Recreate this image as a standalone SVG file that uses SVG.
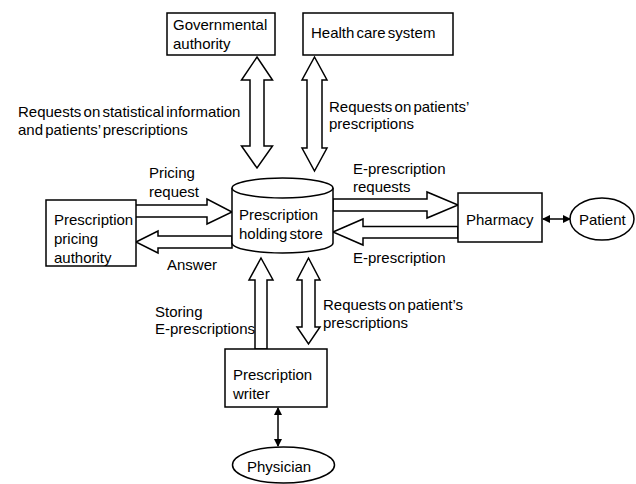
<svg xmlns="http://www.w3.org/2000/svg" width="636" height="484" viewBox="0 0 636 484">
  <defs>
    <style>
      .box { fill: #fff; stroke: #000; stroke-width: 1.5; }
      .wide { fill: #fff; stroke: #000; stroke-width: 1.5; stroke-linejoin: miter; }
      .thin { fill: none; stroke: #000; stroke-width: 1.5; }
      text { font-family: "Liberation Sans", Arial, sans-serif; font-size: 15px; fill: #000; word-spacing: -2px; }
    </style>
    <marker id="head" viewBox="0 0 8 8" refX="7" refY="4" markerWidth="8" markerHeight="8" markerUnits="userSpaceOnUse" orient="auto-start-reverse">
      <path d="M0,0 L8,4 L0,8 Z" fill="#000"/>
    </marker>
  </defs>

  <rect width="636" height="484" fill="#fff"/>

  <!-- connectors: wide hollow arrows and thin two-way links -->
  <g id="connectors">
    <polygon class="wide" points="257,57 272.5,80 264,80 264,146 272.5,146 257,168 241.5,146 250,146 250,80 241.5,80"/>
    <polygon class="wide" points="314.5,57 327,80 322,80 322,148 327,148 314.5,171 302,148 307,148 307,80 302,80"/>
    <polygon class="wide" points="135,205 207,205 207,199 232,212 207,224 207,217 135,217"/>
    <polygon class="wide" points="136,242 158,231 158,236 232,236 232,248 158,248 158,253"/>
    <polygon class="wide" points="333,199 427,199 427,192 458,205 427,218 427,211 333,211"/>
    <polygon class="wide" points="333,232 363,219 363,226.5 458,226.5 458,238 363,238 363,245"/>
    <polygon class="wide" points="261,258 273,280 267,280 267,349 255,349 255,280 249,280"/>
    <polygon class="wide" points="308.5,258 320,280 315,280 315,327 320,327 308.5,344 297,327 302,327 302,280 297,280"/>
    <line class="thin" x1="543" y1="219" x2="570" y2="219" marker-start="url(#head)" marker-end="url(#head)"/>
    <line class="thin" x1="278" y1="408" x2="278" y2="446" marker-start="url(#head)" marker-end="url(#head)"/>
  </g>

  <g id="governmental-authority">
    <rect class="box" x="167" y="13" width="108" height="42"/>
    <text x="173" y="30">Governmental</text>
    <text x="173" y="49">authority</text>
  </g>

  <g id="health-care-system">
    <rect class="box" x="303" y="13" width="150" height="42"/>
    <text x="311" y="38">Health care system</text>
  </g>

  <g id="prescription-holding-store">
    <path class="box" d="M232,188 L232,243 A50.5,10 0 0 0 333,243 L333,188"/>
    <ellipse class="box" cx="282.5" cy="188" rx="50.5" ry="10"/>
    <text x="239" y="220">Prescription</text>
    <text x="239" y="239">holding store</text>
  </g>

  <g id="prescription-pricing-authority">
    <rect class="box" x="46" y="200" width="90" height="66"/>
    <text x="54" y="225">Prescription</text>
    <text x="54" y="244">pricing</text>
    <text x="54" y="263">authority</text>
  </g>

  <g id="pharmacy">
    <rect class="box" x="458" y="193" width="84" height="49"/>
    <text x="466" y="225">Pharmacy</text>
  </g>

  <g id="patient">
    <ellipse class="box" cx="602" cy="219" rx="32" ry="21"/>
    <text x="579" y="225">Patient</text>
  </g>

  <g id="prescription-writer">
    <rect class="box" x="225" y="349" width="102" height="58"/>
    <text x="233" y="380">Prescription</text>
    <text x="233" y="399">writer</text>
  </g>

  <g id="physician">
    <ellipse class="box" cx="283.5" cy="465" rx="51" ry="18"/>
    <text x="247" y="472">Physician</text>
  </g>

  <!-- flow labels -->
  <g id="labels">
    <text x="18" y="117">Requests on statistical information</text>
    <text x="18" y="135">and patients’ prescriptions</text>
    <text x="329" y="112">Requests on patients’</text>
    <text x="329" y="129">prescriptions</text>
    <text x="149" y="178">Pricing</text>
    <text x="149" y="197">request</text>
    <text x="167" y="270">Answer</text>
    <text x="353" y="174">E-prescription</text>
    <text x="353" y="192">requests</text>
    <text x="353" y="263">E-prescription</text>
    <text x="155" y="317">Storing</text>
    <text x="155" y="334">E-prescriptions</text>
    <text x="323" y="310">Requests on patient’s</text>
    <text x="323" y="328">prescriptions</text>
  </g>
</svg>
